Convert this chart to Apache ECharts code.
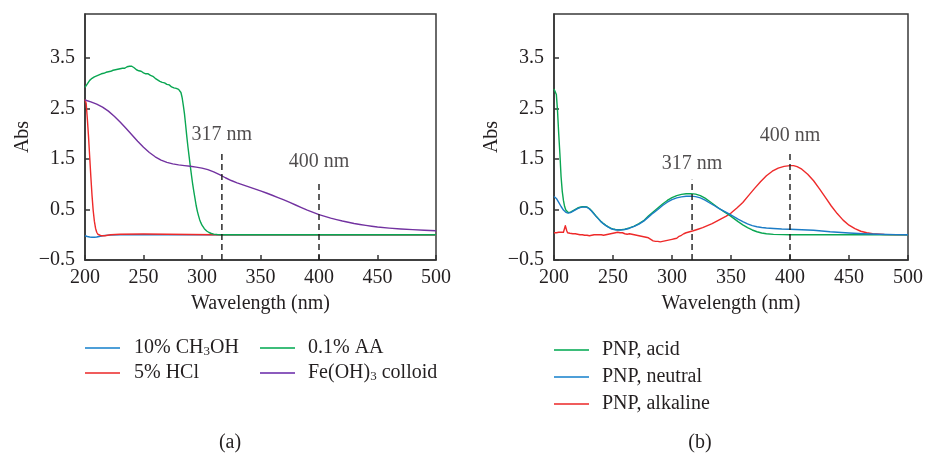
<!DOCTYPE html>
<html>
<head>
<meta charset="utf-8">
<script src="https://cdn.jsdelivr.net/npm/echarts@6/dist/echarts.min.js"></script>
<style>
  html, body { margin: 0; padding: 0; background: #ffffff; }
  #chart { width: 926px; height: 453px; }
</style>
</head>
<body>
<div id="chart"></div>
<script>
// ---- Axis ticks ----
const wavelengthTicks = [200, 250, 300, 350, 400, 450, 500];
const absTicks = [-0.5, 0.5, 1.5, 2.5, 3.5];

// ---- Panel (a): solvent / interferent spectra, [wavelength nm, Abs] ----
const methanol = [
  [200, -0.02], [202, -0.035], [204, -0.045], [206, -0.05], [208, -0.05], [210, -0.045],
  [212, -0.035], [215, -0.02], [220, -0.008], [230, 0], [300, 0], [400, 0], [500, 0]
];
const hcl = [
  [200, 2.68], [201, 2.6], [202, 2.3], [203, 1.95], [204, 1.55], [205, 1.15], [206, 0.78],
  [207, 0.48], [208, 0.27], [209, 0.13], [210, 0.05], [211, 0.01], [212, -0.01], [214, -0.02],
  [217, -0.02], [222, 0.0], [230, 0.01], [250, 0.015], [270, 0.01], [290, 0.005], [310, 0],
  [400, 0], [500, 0]
];
const ascorbicAcid = [
  [200, 2.92], [201, 2.95], [202, 2.99], [203, 3.02], [204, 3.06], [205, 3.04], [206, 3.10],
  [207, 3.08], [208, 3.13], [209, 3.11], [210, 3.15], [211, 3.14], [212, 3.17], [213, 3.15],
  [214, 3.19], [215, 3.18], [216, 3.20], [217, 3.19], [218, 3.22], [219, 3.21], [220, 3.23],
  [221, 3.25], [222, 3.24], [223, 3.27], [224, 3.26], [225, 3.28], [226, 3.27], [227, 3.29],
  [228, 3.28], [229, 3.30], [230, 3.29], [231, 3.31], [232, 3.30], [233, 3.32], [234, 3.30],
  [235, 3.31], [236, 3.33], [237, 3.31], [238, 3.34], [239, 3.32], [240, 3.34], [241, 3.33],
  [242, 3.31], [243, 3.30], [244, 3.27], [245, 3.26], [246, 3.25], [247, 3.23], [248, 3.24],
  [249, 3.22], [250, 3.21], [251, 3.22], [252, 3.19], [253, 3.18], [254, 3.19], [255, 3.17],
  [256, 3.16], [257, 3.15], [258, 3.14], [259, 3.12], [260, 3.10], [261, 3.09], [262, 3.07],
  [263, 3.06], [264, 3.04], [265, 3.03], [266, 3.02], [267, 3.02], [268, 3.01], [269, 3.00],
  [270, 2.98], [271, 2.99], [272, 2.97], [273, 2.96], [274, 2.93], [275, 2.92], [276, 2.91],
  [277, 2.90], [278, 2.90], [279, 2.89], [280, 2.88], [281, 2.86], [282, 2.82], [283, 2.72],
  [284, 2.57], [285, 2.40], [286, 2.18], [287, 1.95], [288, 1.74], [289, 1.55], [290, 1.36],
  [291, 1.18], [292, 1.01], [293, 0.86], [294, 0.72], [295, 0.58], [296, 0.47], [297, 0.38],
  [298, 0.30], [299, 0.24], [300, 0.19], [302, 0.12], [304, 0.075], [306, 0.045], [308, 0.025],
  [310, 0.012], [313, 0.004], [316, 0], [400, 0], [500, 0]
];
const ironColloid = [
  [200, 2.67], [205, 2.635], [210, 2.59], [215, 2.53], [220, 2.45], [225, 2.35], [230, 2.235],
  [235, 2.11], [240, 1.982], [245, 1.855], [250, 1.735], [255, 1.63], [260, 1.545], [265, 1.48],
  [270, 1.435], [275, 1.405], [280, 1.385], [285, 1.37], [290, 1.357], [295, 1.34], [300, 1.32],
  [305, 1.29], [310, 1.245], [315, 1.19], [320, 1.13], [325, 1.075], [330, 1.03], [335, 0.99],
  [340, 0.95], [345, 0.91], [350, 0.87], [355, 0.828], [360, 0.783], [365, 0.737],
  [370, 0.69], [375, 0.64], [380, 0.59], [385, 0.54], [390, 0.49], [395, 0.445], [400, 0.40],
  [405, 0.365], [410, 0.33], [415, 0.30], [420, 0.272], [425, 0.247], [430, 0.224], [435, 0.204],
  [440, 0.186], [445, 0.17], [450, 0.155], [460, 0.132], [470, 0.114], [480, 0.101],
  [490, 0.09], [500, 0.08]
];

// ---- Panel (b): PNP at three pH conditions ----
const pnpAcid = [
  [200, 2.89], [201, 2.88], [202, 2.78], [203, 2.45], [204, 2.0], [205, 1.6], [206, 1.15],
  [207, 0.86], [208, 0.68], [209, 0.56], [210, 0.49], [211, 0.455], [212, 0.44], [214, 0.45],
  [217, 0.49], [220, 0.53], [222, 0.545], [224, 0.555], [226, 0.558], [228, 0.55], [230, 0.52],
  [232, 0.47], [234, 0.415], [236, 0.36], [238, 0.31], [240, 0.26], [242, 0.22], [244, 0.185],
  [246, 0.155], [248, 0.13], [250, 0.115], [252, 0.105], [254, 0.1], [256, 0.1], [258, 0.104],
  [260, 0.11], [264, 0.135], [268, 0.17], [272, 0.22], [276, 0.28], [280, 0.37], [284, 0.45],
  [288, 0.53], [292, 0.61], [296, 0.68], [300, 0.735], [304, 0.775], [308, 0.80], [312, 0.812],
  [316, 0.815], [320, 0.805], [324, 0.775], [328, 0.725], [332, 0.66], [336, 0.59], [340, 0.52],
  [344, 0.46], [348, 0.40], [352, 0.33], [356, 0.26], [360, 0.195], [364, 0.14], [368, 0.095],
  [372, 0.06], [376, 0.035], [380, 0.02], [386, 0.008], [394, 0.002], [400, 0.0], [450, 0],
  [500, 0]
];
const pnpNeutral = [
  [200, 0.76], [202, 0.72], [204, 0.64], [206, 0.56], [208, 0.49], [210, 0.445], [212, 0.43],
  [214, 0.44], [217, 0.48], [220, 0.52], [222, 0.538], [224, 0.548], [226, 0.55], [228, 0.542],
  [230, 0.51], [232, 0.465], [234, 0.41], [236, 0.355], [238, 0.305], [240, 0.255],
  [242, 0.215], [244, 0.18], [246, 0.15], [248, 0.125], [250, 0.11], [252, 0.1], [254, 0.095],
  [256, 0.095], [258, 0.098], [260, 0.105], [264, 0.13], [268, 0.165], [272, 0.21],
  [276, 0.27], [280, 0.35], [284, 0.43], [288, 0.5], [292, 0.58], [296, 0.645], [300, 0.695],
  [304, 0.73], [308, 0.752], [312, 0.763], [316, 0.765], [320, 0.755], [324, 0.73],
  [328, 0.685], [332, 0.63], [336, 0.575], [340, 0.52], [344, 0.47], [348, 0.42], [352, 0.365],
  [356, 0.31], [360, 0.26], [364, 0.215], [368, 0.18], [372, 0.16], [376, 0.145], [380, 0.135],
  [386, 0.125], [393, 0.115], [400, 0.11], [410, 0.10], [420, 0.09], [434, 0.06], [450, 0.035],
  [462, 0.02], [475, 0.01], [490, 0.003], [500, 0]
];
const pnpAlkaline = [
  [200, 0.04], [201, 0.05], [202, 0.04], [203, 0.05], [204, 0.05], [205, 0.04], [206, 0.05],
  [207, 0.04], [208, 0.05], [209, 0.06], [209.6, 0.18], [210.2, 0.2], [210.8, 0.08], [211.5, 0.04],
  [212.5, 0.05], [213.5, 0.03], [215, 0.04], [216, 0.02], [217, 0.03], [218, 0.02], [219, 0.03],
  [220, 0.01], [221, 0.02], [222, 0.0], [223, 0.02], [224, 0.0], [225, 0.01], [226, -0.01],
  [227, 0.01], [228, -0.01], [229, 0.0], [230, -0.02], [231, 0.0], [232, -0.01], [233, -0.02],
  [234, 0.0], [235, -0.01], [236, 0.0], [237, -0.02], [238, 0.0], [239, -0.01], [240, 0.0],
  [241, 0.01], [242, -0.01], [243, 0.01], [244, 0.0], [245, 0.02], [246, 0.01], [247, 0.03],
  [248, 0.02], [249, 0.04], [250, 0.03], [251, 0.02], [252, 0.04], [253, 0.03], [254, 0.05],
  [255, 0.03], [256, 0.04], [257, 0.02], [258, 0.04], [259, 0.03], [260, 0.02], [261, 0.03],
  [262, 0.01], [263, 0.03], [264, 0.02], [265, 0.03], [266, 0.01], [267, 0.02], [268, 0.0],
  [269, 0.01], [270, -0.01], [271, 0.0], [272, -0.02], [273, -0.01], [274, -0.03], [275, -0.02],
  [276, -0.04], [277, -0.03], [278, -0.05], [279, -0.06], [280, -0.06], [281, -0.08], [282, -0.09],
  [283, -0.11], [284, -0.12], [285, -0.14], [286, -0.13], [287, -0.15], [288, -0.13], [289, -0.15],
  [290, -0.14], [291, -0.15], [292, -0.13], [293, -0.14], [294, -0.12], [295, -0.13], [296, -0.11],
  [297, -0.12], [298, -0.10], [299, -0.11], [300, -0.09], [301, -0.10], [302, -0.08], [303, -0.09],
  [304, -0.07], [305, -0.06], [306, -0.03], [307, -0.04], [308, -0.01], [309, 0.0], [310, 0.02],
  [312, 0.04], [315, 0.06], [318, 0.08], [322, 0.11], [326, 0.14], [330, 0.18], [334, 0.22],
  [338, 0.27], [342, 0.32], [346, 0.37], [350, 0.43], [355, 0.53], [360, 0.64], [365, 0.78],
  [370, 0.92], [375, 1.05], [380, 1.17], [385, 1.26], [390, 1.32], [395, 1.355], [400, 1.37],
  [403, 1.37], [406, 1.35], [410, 1.30], [415, 1.2], [420, 1.07], [425, 0.91], [430, 0.74],
  [435, 0.57], [440, 0.42], [445, 0.29], [450, 0.19], [455, 0.12], [460, 0.07], [465, 0.04],
  [470, 0.02], [480, 0.005], [490, 0], [500, 0]
];

// ---- Reference wavelengths: dashed guide tops and label heights (Abs) ----
const guideWavelengths = [317, 400];
const guideTopsA = [1.62, 1.06];
const guideTopsB = [1.09, 1.65];
const guideLabelAbsA = [1.98, 1.44];
const guideLabelAbsB = [1.41, 1.97];

const FONT = '"Liberation Serif", "DejaVu Serif", serif';
const INK = '#231f20';
const AXIS = '#333333';

const COLORS = {
  blue: '#1c7cc6', red: '#ee2a2a', green: '#0aa652', purple: '#7232a0'
};
const LEGEND_COLORS = {
  blue: '#4e9fd8', red: '#f05c5c', green: '#3dbd7a', purple: '#8c5bbd'
};

function makeXAxis(gridIndex) {
  return {
    type: 'value', gridIndex: gridIndex, min: 200, max: 500, interval: 50,
    name: 'Wavelength (nm)', nameLocation: 'middle', nameGap: 34,
    nameTextStyle: { fontFamily: FONT, fontSize: 20, color: INK },
    axisLine: { show: true, onZero: false, lineStyle: { color: AXIS, width: 1.5 } },
    axisTick: { show: true, inside: true, length: 5, lineStyle: { color: AXIS, width: 1.5 } },
    axisLabel: { fontFamily: FONT, fontSize: 20, color: INK, margin: 8,
                 customValues: wavelengthTicks },
    splitLine: { show: false }
  };
}

function makeYAxis(gridIndex) {
  return {
    type: 'value', gridIndex: gridIndex, min: -0.5, max: 4.375,
    name: 'Abs', nameLocation: 'middle', nameGap: 52, nameRotate: 90,
    nameTextStyle: { fontFamily: FONT, fontSize: 20, color: INK },
    axisLine: { show: true, onZero: false, lineStyle: { color: AXIS, width: 1.5 } },
    axisTick: { show: true, inside: true, length: 5, lineStyle: { color: AXIS, width: 1.5 },
                customValues: absTicks },
    axisLabel: {
      fontFamily: FONT, fontSize: 20, color: INK, margin: 10,
      customValues: absTicks,
      formatter: function (v) {
        return v < 0 ? '\u2212' + Math.abs(v).toFixed(1) : v.toFixed(1);
      }
    },
    splitLine: { show: false }
  };
}

function spectrum(name, data, color, axisIndex) {
  return {
    name: name, type: 'line', data: data,
    xAxisIndex: axisIndex, yAxisIndex: axisIndex,
    showSymbol: false, symbol: 'none', smooth: false,
    clip: true, silent: true, animation: false,
    lineStyle: { color: color, width: 1.4, join: 'round' }, itemStyle: { color: color }
  };
}

function guideSeries(axisIndex, tops, labelAbs) {
  const out = [];
  guideWavelengths.forEach(function (wl, i) {
    out.push({
      type: 'line', xAxisIndex: axisIndex, yAxisIndex: axisIndex, silent: true,
      animation: false, symbol: 'none', z: 5,
      data: [[wl, -0.5], [wl, tops[i]]],
      lineStyle: { color: '#1a1a1a', width: 1.4, type: [6, 4] }
    });
    out.push({
      type: 'scatter', xAxisIndex: axisIndex, yAxisIndex: axisIndex, silent: true,
      animation: false, symbolSize: 0, z: 6,
      data: [[wl, labelAbs[i]]],
      label: {
        show: true, position: 'inside', formatter: wl + ' nm',
        fontFamily: FONT, fontSize: 20, color: INK
      }
    });
  });
  return out;
}

const legendText = {
  fontFamily: FONT, fontSize: 20, color: INK,
  rich: {
    n: { fontFamily: FONT, fontSize: 20, color: INK, lineHeight: 20 },
    s: { fontFamily: FONT, fontSize: 13, color: INK, lineHeight: 8, verticalAlign: 'bottom' }
  }
};
function legendFormatter(name) {
  return '{n|' + name.split('\u2083').join('}{s|3}{n|') + '}';
}
function legendBlock(left, top, gap, pad, items) {
  return {
    orient: 'vertical', left: left, top: top, itemGap: gap, padding: 0,
    itemWidth: 35, itemHeight: 2, icon: 'rect', selectedMode: false,
    formatter: legendFormatter,
    textStyle: Object.assign({ padding: [0, 0, 0, pad] }, legendText),
    data: items.map(function (it) {
      return { name: it[0], itemStyle: { color: LEGEND_COLORS[it[1]] } };
    })
  };
}

const NAMES = {
  meoh: '10% CH\u2083OH', hcl: '5% HCl', aa: '0.1% AA', fe: 'Fe(OH)\u2083 colloid',
  acid: 'PNP, acid', neutral: 'PNP, neutral', alkaline: 'PNP, alkaline'
};

const option = {
  backgroundColor: '#ffffff',
  animation: false,
  grid: [
    { left: 85, top: 14, width: 351, height: 246, show: true, borderColor: '#3a3a3a', borderWidth: 1.5 },
    { left: 554, top: 14, width: 354, height: 246, show: true, borderColor: '#3a3a3a', borderWidth: 1.5 }
  ],
  xAxis: [makeXAxis(0), makeXAxis(1)],
  yAxis: [makeYAxis(0), makeYAxis(1)],
  legend: [
    legendBlock(85, 338, 5, 9, [[NAMES.meoh, 'blue'], [NAMES.hcl, 'red']]),
    legendBlock(260, 338, 5, 8, [[NAMES.aa, 'green'], [NAMES.fe, 'purple']]),
    legendBlock(554, 340, 7, 8, [[NAMES.acid, 'green'], [NAMES.neutral, 'blue'], [NAMES.alkaline, 'red']])
  ],
  graphic: [
    { type: 'text', x: 230, y: 443, silent: true,
      style: { text: '(a)', align: 'center', verticalAlign: 'middle', fontFamily: FONT, fontSize: 20, fill: INK } },
    { type: 'text', x: 700, y: 443, silent: true,
      style: { text: '(b)', align: 'center', verticalAlign: 'middle', fontFamily: FONT, fontSize: 20, fill: INK } }
  ],
  series: [
    spectrum(NAMES.meoh, methanol, COLORS.blue, 0),
    spectrum(NAMES.hcl, hcl, COLORS.red, 0),
    spectrum(NAMES.aa, ascorbicAcid, COLORS.green, 0),
    spectrum(NAMES.fe, ironColloid, COLORS.purple, 0),
    spectrum(NAMES.alkaline, pnpAlkaline, COLORS.red, 1),
    spectrum(NAMES.acid, pnpAcid, COLORS.green, 1),
    spectrum(NAMES.neutral, pnpNeutral, COLORS.blue, 1)
  ].concat(guideSeries(0, guideTopsA, guideLabelAbsA))
   .concat(guideSeries(1, guideTopsB, guideLabelAbsB))
};

const chart = echarts.init(document.getElementById('chart'), null, { renderer: 'canvas' });
chart.setOption(option);
</script>
</body>
</html>
